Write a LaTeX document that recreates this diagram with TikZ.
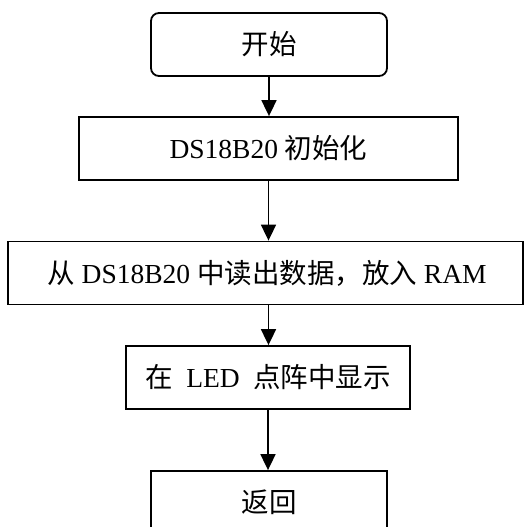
\documentclass[tikz,border=0pt]{standalone}
\usepackage{fontspec}
\setmainfont{Liberation Serif}
\newfontfamily\cjk{Noto Sans CJK SC}
\usetikzlibrary{arrows.meta}
\tikzset{
  box/.style={draw=black, line width=1.8pt, rectangle, inner sep=0pt, minimum height=63pt, font=\fontsize{27.5}{32}\selectfont},
  rbox/.style={box, rounded corners=8pt},
  arr/.style={draw=black, line width=1.8pt, -{Triangle[length=16pt,width=15pt]}}
}
\begin{document}
\begin{tikzpicture}[x=1pt,y=-1pt]
\useasboundingbox (0,0) rectangle (531,527);
\clip (0,0) rectangle (531,527);
\node[rbox, minimum width=236pt] (b1) at (269,44.5) {{\cjk 开始}};
\node[box, minimum width=379pt] (b2) at (268.5,148.5) {DS18B20 {\cjk 初始化}};
\node[box, minimum width=515pt] (b3) at (265.5,273) {\hspace*{3pt}{\cjk 从} DS18B20 {\cjk 中读出数据，放入} RAM};
\node[box, minimum width=284pt] (b4) at (268,377.5) {{\cjk 在}\hspace{0.5em}LED\hspace{0.5em}{\cjk 点阵中显示}};
\node[box, minimum width=236pt] (b5) at (269,502.5) {{\cjk 返回}};
\draw[arr] (b1.south) -- (b1.south |- b2.north);
\draw[arr] (b2.south) -- (b2.south |- b3.north);
\draw[arr] (b3.south -| b2.south) -- (b2.south |- b4.north);
\draw[arr] (b4.south) -- (b4.south |- b5.north);
\end{tikzpicture}
\end{document}
